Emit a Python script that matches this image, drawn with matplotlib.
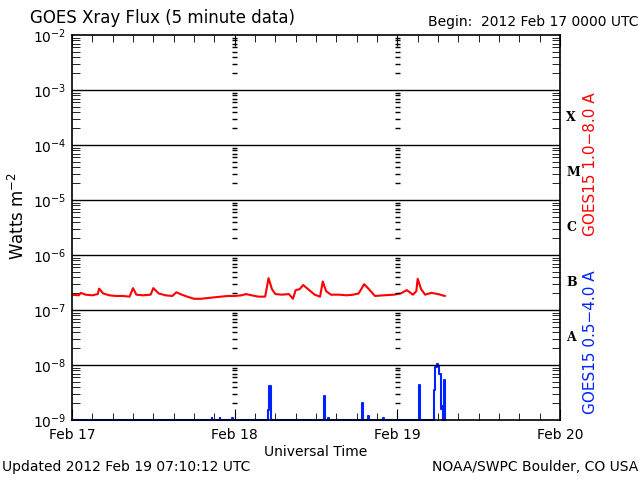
import numpy as np
import matplotlib
matplotlib.use('Agg')
import matplotlib.pyplot as plt
from matplotlib.ticker import FixedLocator, LogLocator, NullFormatter

# Hours since 2012 Feb 17 0000 UTC, long channel (1.0-8.0 A) flux in W m^-2
long_hours = [0.0, 1.0, 1.3, 2.0, 3.0, 3.8, 4.0, 4.6, 5.5, 6.5, 7.5, 8.5, 9.0, 9.5,
              10.5, 11.6, 12.0, 12.8, 13.8, 14.8, 15.4, 16.2, 17.0, 18.0, 19.0,
              20.0, 21.0, 22.0, 23.0, 24.0, 25.0, 25.7, 26.5, 27.5, 28.5, 29.0,
              29.5, 30.0, 31.0, 32.0, 32.6, 33.0, 33.6, 34.1, 35.0, 35.8, 36.6,
              37.0, 37.5, 38.2, 39.5, 40.5, 41.5, 42.3, 43.1, 43.8, 44.7, 46.0,
              47.5, 48.5, 49.4, 50.3, 50.8, 51.0, 51.5, 52.1, 53.0, 54.0, 55.0]
long_flux = [1.9e-7, 1.85e-7, 2.05e-7, 1.9e-7, 1.85e-7, 1.95e-7, 2.45e-7, 2.0e-7,
             1.85e-7, 1.8e-7, 1.8e-7, 1.75e-7, 2.5e-7, 1.9e-7, 1.85e-7, 1.9e-7,
             2.5e-7, 2.0e-7, 1.85e-7, 1.8e-7, 2.1e-7, 1.9e-7, 1.75e-7, 1.6e-7,
             1.6e-7, 1.65e-7, 1.7e-7, 1.75e-7, 1.8e-7, 1.8e-7, 1.85e-7, 1.95e-7,
             1.85e-7, 1.75e-7, 1.75e-7, 3.8e-7, 2.4e-7, 1.95e-7, 1.9e-7, 1.95e-7,
             1.6e-7, 2.3e-7, 2.4e-7, 2.85e-7, 2.3e-7, 1.9e-7, 1.75e-7, 3.3e-7,
             2.2e-7, 1.9e-7, 1.9e-7, 1.85e-7, 1.9e-7, 2.0e-7, 2.95e-7, 2.4e-7,
             1.8e-7, 1.85e-7, 1.9e-7, 2.0e-7, 2.3e-7, 1.9e-7, 2.2e-7, 3.7e-7,
             2.4e-7, 1.9e-7, 2.05e-7, 1.95e-7, 1.8e-7]

# Short channel (0.5-4.0 A)
short_hours = [0.0, 20.5, 20.6, 20.7, 21.7, 21.8, 21.9, 23.5, 23.6, 23.7, 28.7,
               28.9, 29.1, 29.3, 37.1, 37.2, 37.3, 37.7, 37.8, 37.9, 42.7, 42.8,
               42.9, 43.6, 43.7, 43.8, 45.8, 45.9, 46.0, 51.1, 51.2, 51.3, 53.3,
               53.4, 53.6, 53.8, 54.0, 54.2, 54.4, 54.6, 54.8, 54.9, 55.0]
short_flux = [1e-9, 1e-9, 1.1e-9, 1e-9, 1e-9, 1.1e-9, 1e-9, 1e-9, 1.1e-9, 1e-9,
              1e-9, 1.5e-9, 4.2e-9, 1e-9, 1e-9, 2.7e-9, 1e-9, 1e-9, 1.1e-9, 1e-9,
              1e-9, 2.0e-9, 1e-9, 1e-9, 1.2e-9, 1e-9, 1e-9, 1.1e-9, 1e-9, 1e-9,
              4.3e-9, 1e-9, 1e-9, 3.5e-9, 9.2e-9, 1.04e-8, 9.5e-9, 6.9e-9,
              1.6e-9, 1.8e-9, 1e-9, 5.4e-9, 1e-9]

day_ticks = [0, 24, 48, 72]
day_labels = ['Feb 17', 'Feb 18', 'Feb 19', 'Feb 20']
decades = [1e-9, 1e-8, 1e-7, 1e-6, 1e-5, 1e-4, 1e-3, 1e-2]
flare_classes = ['A', 'B', 'C', 'M', 'X']
flare_levels = [1e-8, 1e-7, 1e-6, 1e-5, 1e-4]

fig = plt.figure(figsize=(6.4, 4.8), dpi=100)
ax = fig.add_axes([0.1125, 0.125, 0.7625, 0.802])

ax.plot(long_hours, long_flux, color='red', lw=1.5)
ax.plot(short_hours, short_flux, color='#0022ff', lw=1.5, clip_on=False,
        drawstyle='steps-post')

ax.set_yscale('log')
ax.set_ylim(1e-9, 1e-2)
ax.set_xlim(0, 72)

# decade lines
for d in decades[1:-1]:
    ax.axhline(d, color='black', lw=1)

# y ticks
ax.yaxis.set_major_locator(FixedLocator(decades))
ax.set_yticklabels([f'$10^{{{int(np.log10(d))}}}$' for d in decades])
ax.yaxis.set_minor_locator(LogLocator(base=10, subs=np.arange(2, 10), numticks=20))
ax.yaxis.set_minor_formatter(NullFormatter())
ax.tick_params(axis='y', which='both', direction='in', left=True, right=True,
               labelsize=10, pad=4)
ax.tick_params(axis='y', which='minor', length=6)
ax.tick_params(axis='y', which='major', length=0)

# x ticks
ax.set_xticks(day_ticks)
ax.set_xticklabels(day_labels)
ax.xaxis.set_minor_locator(FixedLocator(np.arange(0, 73, 3)))
ax.tick_params(axis='x', which='both', direction='in', top=True, bottom=True,
               labelsize=10, pad=6)
ax.tick_params(axis='x', which='minor', length=5)
ax.tick_params(axis='x', which='major', length=8)

# minor tick columns at each day boundary
minor_vals = [m * d for d in decades[:-1] for m in range(2, 10)]
for day in day_ticks[1:3]:
    ax.hlines(minor_vals, day - 0.4, day + 0.4, color='black', lw=1)

for sp in ax.spines.values():
    sp.set_linewidth(1.2)

ax.set_xlabel('Universal Time', fontsize=10, labelpad=2)
ax.set_ylabel('Watts m$^{-2}$', fontsize=12)
ax.yaxis.set_label_coords(-0.09, 0.53)

# flare class letters
for c, lev in zip(flare_classes, flare_levels):
    ax.text(1.013, lev * 10 ** 0.5, c, transform=ax.get_yaxis_transform(),
            fontsize=9, fontweight='bold', family='serif', ha='left', va='center')

fig.text(0.922, 0.658, 'GOES15 1.0\u22128.0 A', color='red', rotation=90,
         fontsize=11, ha='center', va='center')
fig.text(0.922, 0.288, 'GOES15 0.5\u22124.0 A', color='#0022ff', rotation=90,
         fontsize=11, ha='center', va='center')

fig.text(0.047, 0.962, 'GOES Xray Flux (5 minute data)', fontsize=12,
         ha='left', va='center')
fig.text(0.997, 0.955, 'Begin:  2012 Feb 17 0000 UTC', fontsize=10,
         ha='right', va='center')
fig.text(0.003, 0.027, 'Updated 2012 Feb 19 07:10:12 UTC', fontsize=10,
         ha='left', va='center')
fig.text(0.997, 0.027, 'NOAA/SWPC Boulder, CO USA', fontsize=10,
         ha='right', va='center')

fig.savefig('out.png', dpi=100)
